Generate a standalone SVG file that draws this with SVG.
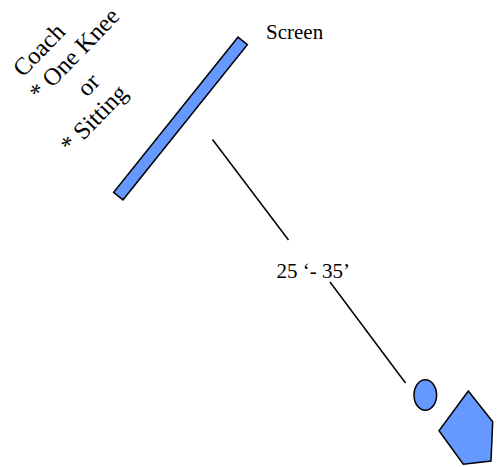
<svg xmlns="http://www.w3.org/2000/svg" width="499" height="467" viewBox="0 0 499 467">
<style>
text{font-family:"Liberation Serif","Times New Roman",serif;fill:#000}
.lbl{font-size:24.5px;text-anchor:middle}
.shape{fill:#6699ff;stroke:#000;stroke-width:1.5}
.ln{stroke:#000;stroke-width:1.5;fill:none}
</style>
<rect width="499" height="467" fill="#fff"/>
<g id="coach-label">
<text class="lbl" x="44.7" y="55.5" transform="rotate(-46 44.7 55.5)">Coach</text>
<text class="lbl" x="80.2" y="59.6" transform="rotate(-46 80.2 59.6)">* One Knee</text>
<text class="lbl" x="94" y="90.3" transform="rotate(-46 94 90.3)">or</text>
<text class="lbl" x="99.7" y="124.2" transform="rotate(-46 99.7 124.2)">* Sitting</text>
</g>
<g id="screen">
<rect class="shape" x="-99.5" y="-6" width="199" height="12" transform="translate(180.5,118.5) rotate(-51.3)"/>
<text font-size="21" x="266" y="38.5">Screen</text>
</g>
<g id="connectors">
<line class="ln" x1="212.5" y1="139.5" x2="288.5" y2="240"/>
<line class="ln" x1="330" y1="282" x2="405.5" y2="383"/>
</g>
<g id="distance">
<text font-size="21" x="276.5" y="277.5">25 ‘- 35’</text>
</g>
<g id="player">
<ellipse class="shape" cx="425.3" cy="395" rx="11.3" ry="15.3"/>
</g>
<g id="pentagon">
<polygon class="shape" points="468.3,391 492.7,421.7 491,461 463.3,464.3 439,430.7"/>
</g>
</svg>
